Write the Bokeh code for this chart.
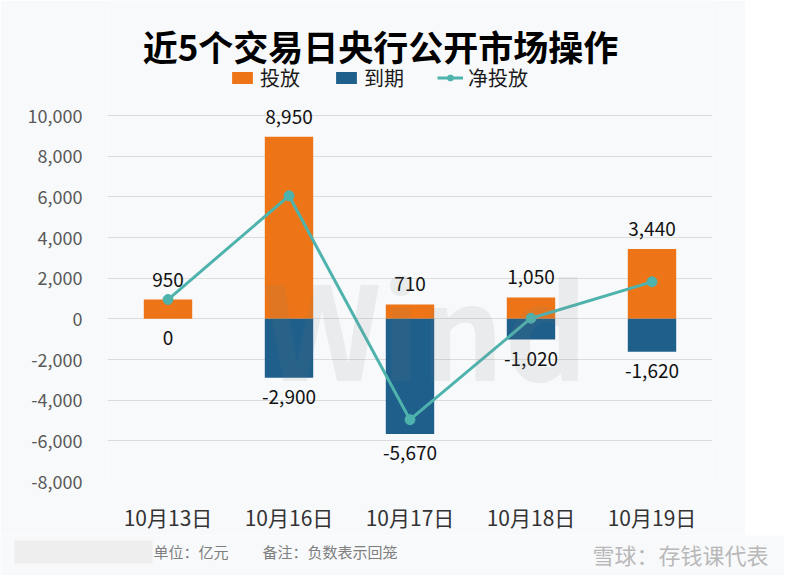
from bokeh.plotting import figure
from bokeh.layouts import column
from bokeh.core.properties import value
from bokeh.models import (ColumnDataSource, LabelSet, Label, Legend, LegendItem,
                          NumeralTickFormatter, FixedTicker, Range1d, FactorRange,
                          BoxAnnotation)
from bokeh.embed import file_html
from bokeh.resources import INLINE

# ---------------- data ----------------
dates = ["10月13日", "10月16日", "10月17日", "10月18日", "10月19日"]
inject = [950, 8950, 710, 1050, 3440]          # 投放
mature = [0, -2900, -5670, -1020, -1620]       # 到期
net = [950, 6050, -4960, 30, 1820]             # 净投放
y_ticks = [-8000, -6000, -4000, -2000, 0, 2000, 4000, 6000, 8000, 10000]

title_text = "近5个交易日央行公开市场操作"
unit_text = "单位：亿元"
note_text = "备注：负数表示回笼"
brand_text = "雪球：存钱课代表"

FONT = "Noto Sans CJK SC"
ORANGE = "#EE7517"
BLUE = "#1F5F8B"
TEAL = "#4FB3AD"
BG = "#f8f9fb"

src = ColumnDataSource(dict(
    date=dates, inject=inject, mature=mature, net=net,
    inj_lbl=[f"{v:,}" for v in inject],
    mat_lbl=[f"{v:,}" for v in mature],
))

# frame reaches the top of the canvas so title and legend are drawn inside it
p = figure(x_range=FactorRange(*dates), y_range=Range1d(-8000, 15656),
           width=745, height=535, output_backend="svg", toolbar_location=None,
           min_border_left=107, min_border_right=33,
           min_border_top=0, min_border_bottom=54)
p.frame_align = False
p.background_fill_color = BG
p.border_fill_color = BG
p.outline_line_color = None

r_inj = p.vbar(x="date", top="inject", bottom=0, width=0.4, fill_color=ORANGE,
               line_color=None, source=src)
r_mat = p.vbar(x="date", top="mature", bottom=0, width=0.4, fill_color=BLUE,
               line_color=None, source=src)
r_line = p.line(x="date", y="net", line_color=TEAL, line_width=3, source=src)
r_pts = p.scatter(x="date", y="net", size=10, color=TEAL, source=src)

p.add_layout(LabelSet(x="date", y="inject", text="inj_lbl", source=src,
                      text_align="center", text_baseline="bottom", y_offset=13,
                      text_font=value(FONT), text_font_size="19px",
                      text_color="#111111"))
p.add_layout(LabelSet(x="date", y="mature", text="mat_lbl", source=src,
                      text_align="center", text_baseline="top", y_offset=-12,
                      text_font=value(FONT), text_font_size="19px",
                      text_color="#111111"))

# axes
p.yaxis.ticker = FixedTicker(ticks=y_ticks)
p.yaxis.formatter = NumeralTickFormatter(format="0,0")
for ax in (p.xaxis, p.yaxis):
    ax.axis_line_color = None
    ax.major_tick_line_color = None
    ax.minor_tick_line_color = None
    ax.major_label_text_font = FONT
p.yaxis.major_label_text_font_size = "18px"
p.yaxis.major_label_text_color = "#595959"
p.yaxis.major_label_standoff = 19
p.xaxis.major_label_text_font_size = "21px"
p.xaxis.major_label_text_color = "#333333"
p.xaxis.major_label_standoff = 14

p.xgrid.grid_line_color = None
p.ygrid.grid_line_color = "#dcdcdc"
p.ygrid.grid_line_width = 1
p.ygrid.ticker = FixedTicker(ticks=y_ticks)

# legend
legend = Legend(items=[LegendItem(label="投放", renderers=[r_inj]),
                       LegendItem(label="到期", renderers=[r_mat]),
                       LegendItem(label="净投放", renderers=[r_line, r_pts])],
                orientation="horizontal", location=(122, 389),
                glyph_width=26, glyph_height=15, label_standoff=5, spacing=33,
                padding=0, margin=0, border_line_color=None,
                background_fill_alpha=0,
                label_text_font=FONT, label_text_font_size="20px",
                label_text_color="#1a1a1a")
p.add_layout(legend)

# watermark
p.add_layout(Label(x=1.28, y=-4854, text="Wind", text_font=FONT,
                   text_font_style="bold", text_font_size="130px",
                   text_color="#7f7f7f", text_alpha=0.11))

# title
p.add_layout(Label(x=2.256, y=13443, text=title_text, text_font=FONT,
                   text_font_style="bold", text_font_size="35px",
                   text_align="center", text_baseline="middle",
                   text_color="#000000"))

# footer strip (its frame covers the whole strip)
f = figure(x_range=Range1d(0, 784), y_range=Range1d(0, 40),
           width=784, height=40, output_backend="svg", toolbar_location=None,
           min_border=0, x_axis_type=None, y_axis_type=None)
f.frame_align = False
f.background_fill_color = BG
f.border_fill_color = BG
f.outline_line_color = None
f.grid.visible = False
f.add_layout(BoxAnnotation(left=14, right=152, bottom=12, top=35,
                           fill_color="#eeeeee", fill_alpha=1, line_alpha=0))
f.add_layout(Label(x=153, y=24, text=unit_text, text_font=FONT,
                   text_font_size="15px", text_baseline="middle",
                   text_color="#7f7f7f"))
f.add_layout(Label(x=262, y=24, text=note_text, text_font=FONT,
                   text_font_size="15px", text_baseline="middle",
                   text_color="#7f7f7f"))
f.add_layout(Label(x=592, y=22, text=brand_text, text_font=FONT,
                   text_font_size="22px", text_baseline="middle",
                   text_color="#b8b8b8"))

layout = column(p, f, spacing=0)
open("out.html", "w").write(file_html(layout, INLINE))
